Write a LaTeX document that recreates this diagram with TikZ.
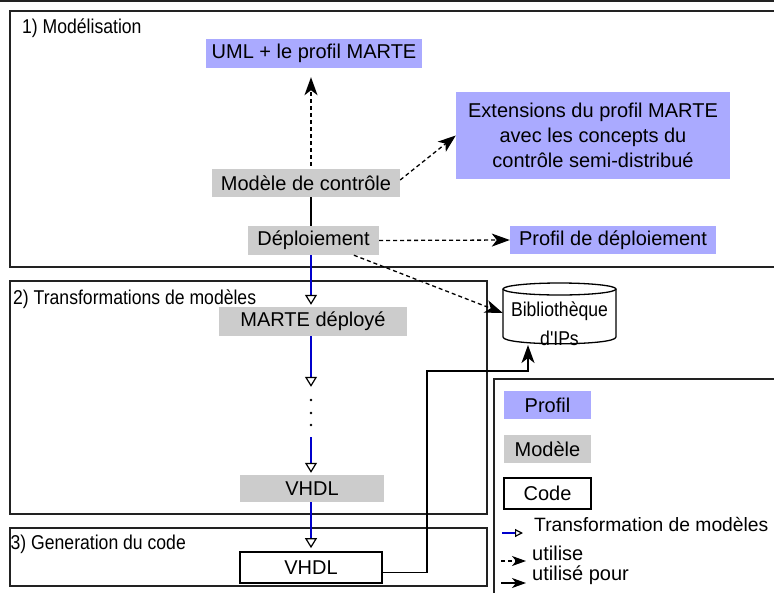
\documentclass[tikz,border=0pt]{standalone}
\usepackage{fontspec}
\setmainfont{Liberation Sans}
\newfontfamily\narrowf[FakeStretch=0.88]{Liberation Sans}
\usetikzlibrary{arrows.meta}
\definecolor{proffill}{HTML}{AAAAFF}
\definecolor{modfill}{HTML}{CCCCCC}
\definecolor{trblue}{HTML}{0000CC}
\definecolor{framec}{HTML}{222222}
\begin{document}
\begin{tikzpicture}[x=1pt,y=-1pt,
  every node/.style={font=\fontsize{20}{25}\selectfont, inner sep=0pt},
  profbox/.style={fill=proffill},
  modbox/.style={fill=modfill},
  codebox/.style={draw=black, line width=1.8pt, fill=white},
  section/.style={draw=framec, line width=1.2pt},
  sectitle/.style={anchor=base west, font=\narrowf\fontsize{20}{24}\selectfont},
  bigtip/.tip={Stealth[length=18pt,width=13pt,inset=5pt]},
  smalltip/.tip={Stealth[length=14pt,width=10pt,inset=4pt]},
  uses/.style={dash pattern=on 4pt off 3pt, line width=1.3pt, -bigtip},
  usedfor/.style={line width=1.3pt, -bigtip},
  transf/.style={draw=trblue, line width=1.2pt, -{Triangle[open, color=black, length=10pt, width=12pt]}},
  legtransf/.style={draw=trblue, line width=1.2pt, -{Triangle[open, color=black, length=8pt, width=8pt]}},
  leguses/.style={dash pattern=on 4pt off 3pt, line width=1.3pt, -smalltip},
  legusedfor/.style={line width=1.3pt, -smalltip},
  plain/.style={line width=1.2pt}
]
\useasboundingbox (0,0) rectangle (774,592);
\clip (0,0) rectangle (774,592);

% frames
\draw[framec, line width=1.6pt] (0,0.8) -- (774,0.8);
\draw[section] (10,11) rectangle (790,267);
\draw[section] (10,281) rectangle (487,514);
\draw[section] (10,528) rectangle (487,586);
\draw[section] (494,379) rectangle (790,610);

% section titles
\node[sectitle] (t1) at (22,33) {1) Modélisation};
\node[sectitle] (t2) at (13,304) {2) Transformations de modèles};
\node[sectitle] (t3) at (10.5,549) {3) Generation du code};

\coordinate (spine) at (311,0);

% nodes
\node[profbox, minimum width=216pt, minimum height=29pt] (uml) at (314,53.5) {UML + le profil MARTE};
\node[profbox, minimum width=274pt, minimum height=87pt, align=center] (ext) at (593,135.5)
  {Extensions du profil MARTE\\avec les concepts du\\contrôle semi-distribué};
\node[modbox, minimum width=188pt, minimum height=28pt] (mod) at (306,183) {Modèle de contrôle};
\node[modbox, minimum width=131pt, minimum height=29pt] (dep) at (313.5,240.5) {Déploiement};
\node[profbox, minimum width=206pt, minimum height=28pt] (prof) at (613,240) {Profil de déploiement};
\node[modbox, minimum width=188pt, minimum height=29pt] (marte) at (313,321.5) {MARTE déployé};
\node[minimum width=10pt, minimum height=48pt] (dots) at (311,411) {};
\node[modbox, minimum width=144pt, minimum height=27pt] (vhdlm) at (312,488.5) {VHDL};
\node[codebox, minimum width=142pt, minimum height=31pt] (vhdlc) at (311,567.5) {VHDL};

% library cylinder
\node[minimum width=113pt, minimum height=62pt] (lib) at (559.5,313) {};
\draw[line width=1.3pt, fill=white] (503,289) -- (503,337)
  .. controls (503,346) and (616,346) .. (616,337) -- (616,289);
\draw[line width=1.3pt, fill=white] (559.5,289) ellipse [x radius=56.5pt, y radius=6pt];
\node[font=\narrowf\fontsize{20}{24}\selectfont, anchor=base] (libt1) at (559.5,316) {Bibliothèque};
\node[font=\narrowf\fontsize{20}{24}\selectfont, anchor=base] (libt2) at (559.5,345) {d'IPs};

% dots
\fill (311,400) circle[radius=1.3pt];
\fill (311,413) circle[radius=1.3pt];
\fill (311,425) circle[radius=1.3pt];

% connectors
\draw[uses, shorten <=3pt, shorten >=9pt] (mod.north -| spine) -- (uml.south -| spine);
\draw[uses] ([yshift=3pt]mod.east) -- (ext.west);
\draw[plain] (mod.south -| spine) -- (dep.north -| spine);
\draw[uses] (dep.east) -- (prof.west);
\draw[uses] (dep.-20) -- (lib.west);

\draw[transf, shorten >=2pt] (dep.south -| spine) -- (marte.north -| spine);
\draw[transf] (marte.south -| spine) -- (dots.north);
\draw[transf, shorten <=2pt, shorten >=2pt] (dots.south) -- (vhdlm.north -| spine);
\draw[transf, shorten >=3pt] (vhdlm.south -| spine) -- (vhdlc.north -| spine);

\coordinate (bend) at (427,371);
\coordinate (libin) at (528,345);
\draw[usedfor] ([yshift=-5pt]vhdlc.east) -| (bend) -| (libin);

% legend
\node[profbox, minimum width=87pt, minimum height=28pt] (lprof) at (547.5,405) {Profil};
\node[modbox, minimum width=87pt, minimum height=28pt] (lmod) at (547.5,449) {Modèle};
\node[codebox, minimum width=87pt, minimum height=31pt] (lcode) at (547.5,493.5) {Code};

\coordinate (lt1) at (502,533); \coordinate (lt2) at (523,533);
\draw[legtransf] (lt1) -- (lt2);
\node[anchor=base west, font=\fontsize{19.3}{24}\selectfont] (ltr) at (534,531) {Transformation de modèles};

\coordinate (lu1) at (501,561); \coordinate (lu2) at (526,561);
\draw[leguses] (lu1) -- (lu2);
\node[anchor=base west] (lus) at (532,560) {utilise};

\coordinate (lp1) at (501,583); \coordinate (lp2) at (526,583);
\draw[legusedfor] (lp1) -- (lp2);
\node[anchor=base west] (lup) at (532,580) {utilisé pour};
\end{tikzpicture}
\end{document}
